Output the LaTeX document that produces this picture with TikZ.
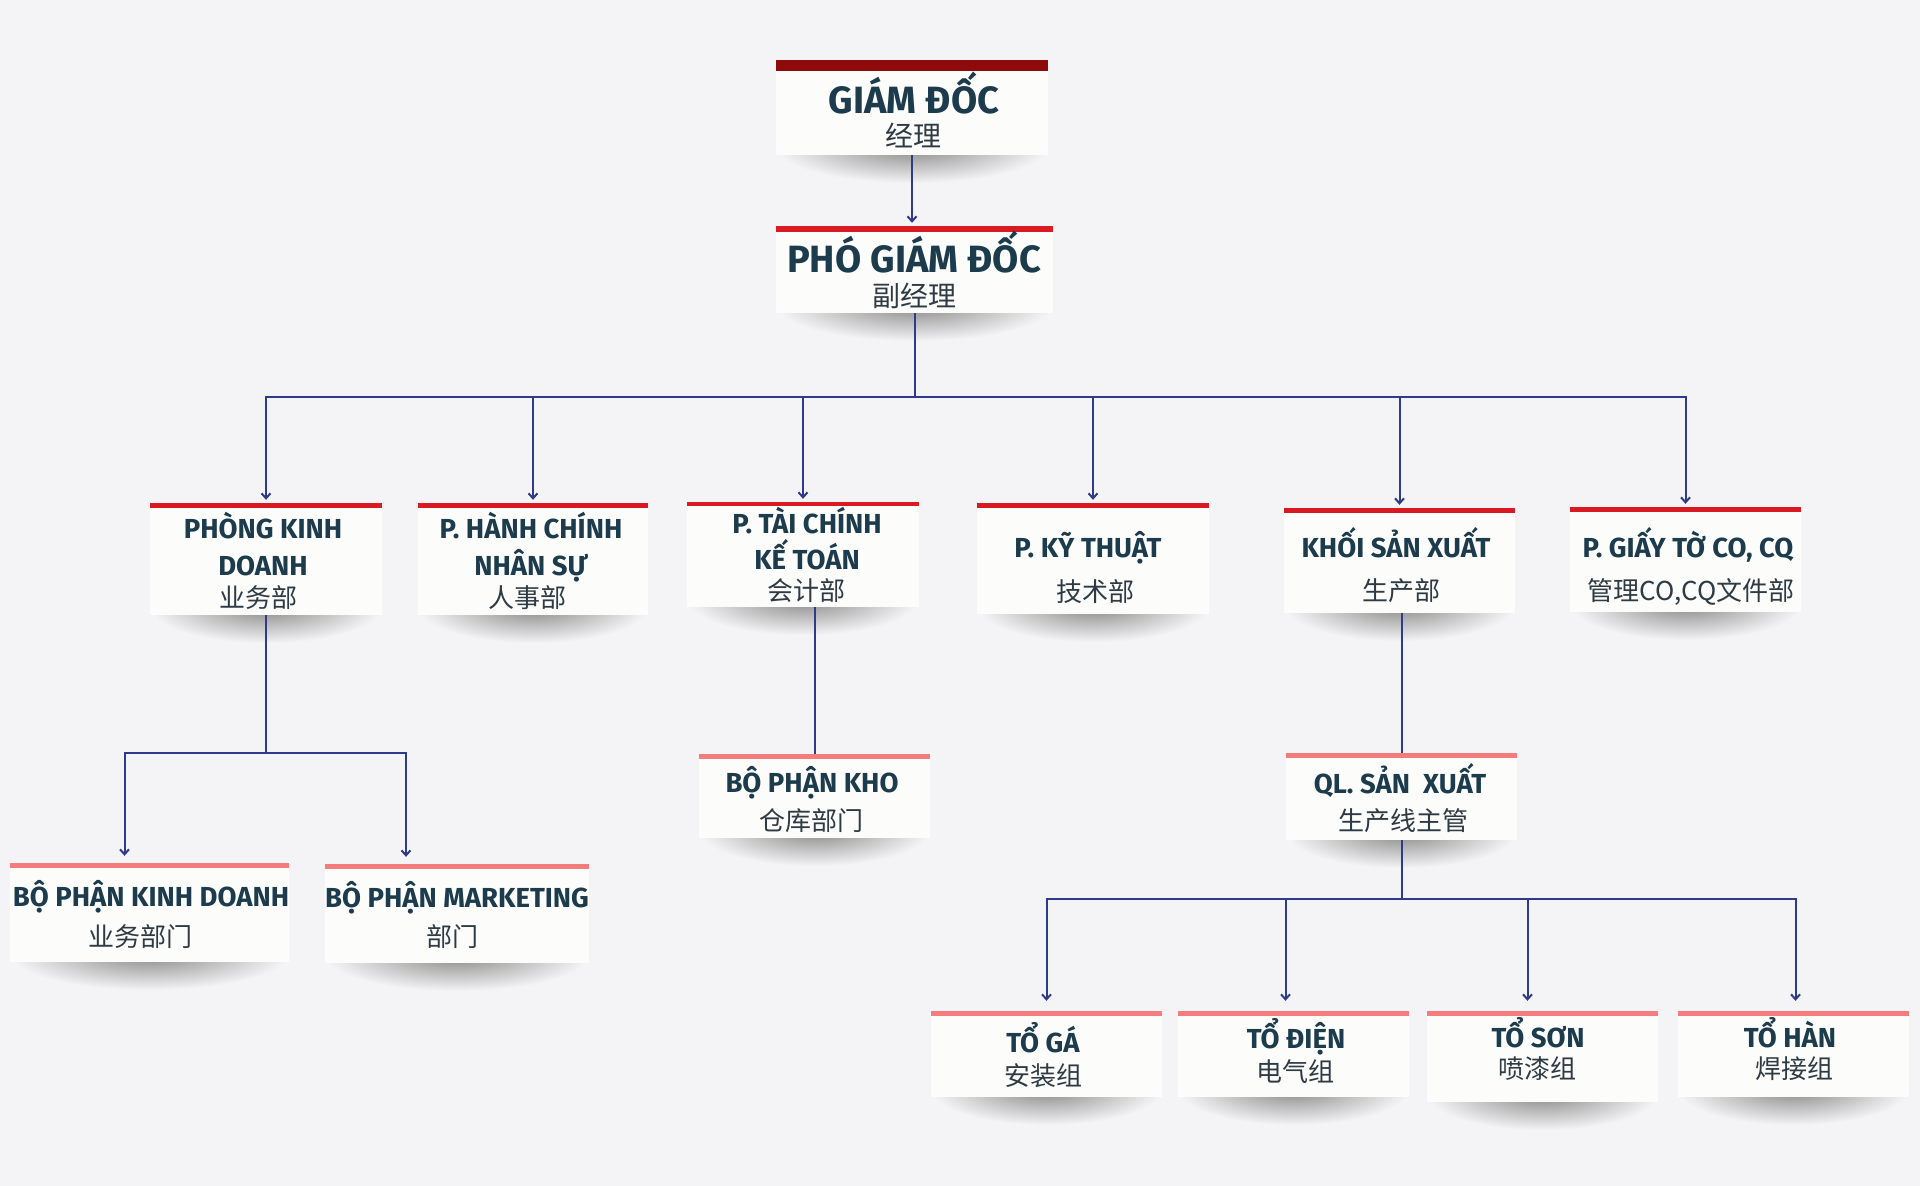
\documentclass[tikz,border=0pt]{standalone}
\usepackage{fontspec}
\setmainfont{Fira Sans}
\newfontfamily\cjk{Noto Sans CJK SC}
\usetikzlibrary{arrows.meta,fit,calc}
\definecolor{bg}{HTML}{F4F4F6}
\definecolor{boxc}{HTML}{FCFCFA}
\definecolor{darkbar}{HTML}{8E0B0B}
\definecolor{redbar}{HTML}{DA1A22}
\definecolor{coral}{HTML}{F47C7C}
\definecolor{txtc}{HTML}{1C3B4D}
\definecolor{cnc}{HTML}{2E3A44}
\definecolor{linec}{HTML}{2F3A8A}
\definecolor{shc}{HTML}{888888}
\newcommand\orgbox[7]{%
  \shade[inner color=shc, outer color=bg] ({(#2+#3)/2},{#6-8}) ellipse [x radius={(#3-#2)*0.5pt}, y radius=36pt];
  \fill[boxc] (#2,#5) rectangle (#3,#6);
  \fill[#7] (#2,#4) rectangle (#3,#5);
  \node[fit={(#2,#4)(#3,#6)}, inner sep=0pt, draw=none] (#1) {};
}
\tikzset{
  vtA/.style={font=\bfseries\fontsize{38}{38}\selectfont, text=txtc, inner sep=0pt, text depth=0pt, anchor=base},
  cnA/.style={font=\cjk\fontsize{28}{28}\selectfont, text=cnc, inner sep=0pt, text height=0.8em, anchor=base},
  vt/.style={font=\bfseries\fontsize{27.5}{27.5}\selectfont, text=txtc, inner sep=0pt, text depth=0pt, anchor=base},
  cn/.style={font=\cjk\fontsize{26}{26}\selectfont, text=cnc, inner sep=0pt, text height=0.8em, anchor=base},
  conn/.style={draw=linec, line width=2pt},
  arr/.style={conn, -{Straight Barb[length=5pt,width=9pt]}},
}
\begin{document}
\begin{tikzpicture}[x=1pt,y=-1pt]
\useasboundingbox (0,0) rectangle (1920,1186);
\fill[bg] (0,0) rectangle (1920,1186);
% boxes: name, x1, x2, bar top, bar bottom, box bottom, bar colour
\orgbox{gd}{776}{1048}{60}{71}{155}{darkbar}
\orgbox{pgd}{776}{1053}{226}{232}{313}{redbar}
\orgbox{pkd}{150}{382}{503}{508}{615}{redbar}
\orgbox{phc}{418}{648}{503}{508}{615}{redbar}
\orgbox{ptc}{687}{919}{502}{506}{607}{redbar}
\orgbox{pkt}{977}{1209}{503}{508}{614}{redbar}
\orgbox{ksx}{1284}{1515}{508}{513}{613}{redbar}
\orgbox{pgt}{1570}{1801}{507}{512}{612}{redbar}
\orgbox{bpkd}{10}{289}{863}{868}{962}{coral}
\orgbox{bpmk}{325}{589}{864}{869}{963}{coral}
\orgbox{kho}{699}{930}{754}{759}{838}{coral}
\orgbox{qlsx}{1286}{1517}{753}{758}{840}{coral}
\orgbox{tga}{931}{1162}{1011}{1016}{1097}{coral}
\orgbox{tdien}{1178}{1409}{1011}{1016}{1097}{coral}
\orgbox{tson}{1427}{1658}{1011}{1016}{1102}{coral}
\orgbox{than}{1678}{1909}{1011}{1016}{1097}{coral}
% texts
\node[vtA] (gd-t) at (914,113) {GIÁM ĐỐC};
\node[cnA] (gd-c) at (913,146) {经理};
\node[vtA] (pgd-t) at (914,272) {PHÓ GIÁM ĐỐC};
\node[cnA] (pgd-c) at (914,306) {副经理};
\node[vt] (pkd-t1) at (263,538) {PHÒNG KINH};
\node[vt] (pkd-t2) at (263,575) {DOANH};
\node[cn] (pkd-c) at (258,607) {业务部};
\node[vt] (phc-t1) at (531,538) {P. HÀNH CHÍNH};
\node[vt] (phc-t2) at (531,575) {NHÂN SỰ};
\node[cn] (phc-c) at (527,607) {人事部};
\node[vt] (ptc-t1) at (807,533) {P. TÀI CHÍNH};
\node[vt] (ptc-t2) at (807,569) {KẾ TOÁN};
\node[cn] (ptc-c) at (806,600) {会计部};
\node[vt] (pkt-t) at (1088,557) {P. KỸ THUẬT};
\node[cn] (pkt-c) at (1095,601) {技术部};
\node[vt] (ksx-t) at (1396,557) {KHỐI SẢN XUẤT};
\node[cn] (ksx-c) at (1401,600) {生产部};
\node[vt] (pgt-t) at (1688,557) {P. GIẤY TỜ CO, CQ};
\node[cn] (pgt-c) at (1691,600) {管理CO,CQ文件部};
\node[vt] (bpkd-t) at (151,906) {BỘ PHẬN KINH DOANH};
\node[cn] (bpkd-c) at (140,946) {业务部门};
\node[vt] (bpmk-t) at (457,907) {BỘ PHẬN MARKETING};
\node[cn] (bpmk-c) at (452,946) {部门};
\node[vt] (kho-t) at (812,792) {BỘ PHẬN KHO};
\node[cn] (kho-c) at (811,830) {仓库部门};
\node[vt] (qlsx-t) at (1400,793) {QL. SẢN~~XUẤT};
\node[cn] (qlsx-c) at (1403,830) {生产线主管};
\node[vt] (tga-t) at (1043,1052) {TỔ GÁ};
\node[cn] (tga-c) at (1043,1085) {安装组};
\node[vt] (tdien-t) at (1296,1048) {TỔ ĐIỆN};
\node[cn] (tdien-c) at (1295,1081) {电气组};
\node[vt] (tson-t) at (1538,1047) {TỔ SƠN};
\node[cn] (tson-c) at (1537,1078) {喷漆组};
\node[vt] (than-t) at (1790,1047) {TỔ HÀN};
\node[cn] (than-c) at (1794,1078) {焊接组};
% connectors
\draw[arr, shorten >=3pt] (gd.south) -- (gd.south |- pgd.north);
\path (pgd.south) ++(0,84) coordinate (j1);
\draw[conn] (pgd.south) -- (j1);
\foreach \n in {pkd,phc,ptc,pkt,ksx,pgt}
  \draw[arr, shorten >=3pt] (j1) -| (\n.north);
\path (pkd.south) ++(0,138) coordinate (j2);
\draw[conn] (pkd.south) -- (j2);
\draw[arr, shorten >=7pt] (j2) -| ([xshift=-25pt]bpkd.north);
\draw[arr, shorten >=7pt] (j2) -| ([xshift=-51pt]bpmk.north);
\draw[conn] (ptc.south -| kho.north) -- (kho.north);
\draw[conn] (ksx.south -| qlsx.north) -- (qlsx.north);
\path (qlsx.south) ++(0,59) coordinate (j3);
\draw[conn] (qlsx.south) -- (j3);
\draw[arr, shorten >=10pt] (j3) -| (tga.north);
\draw[arr, shorten >=10pt] (j3) -| ([xshift=-8pt]tdien.north);
\draw[arr, shorten >=10pt] (j3) -| ([xshift=-15pt]tson.north);
\draw[arr, shorten >=10pt] (j3) -| ([xshift=2pt]than.north);
\end{tikzpicture}
\end{document}
